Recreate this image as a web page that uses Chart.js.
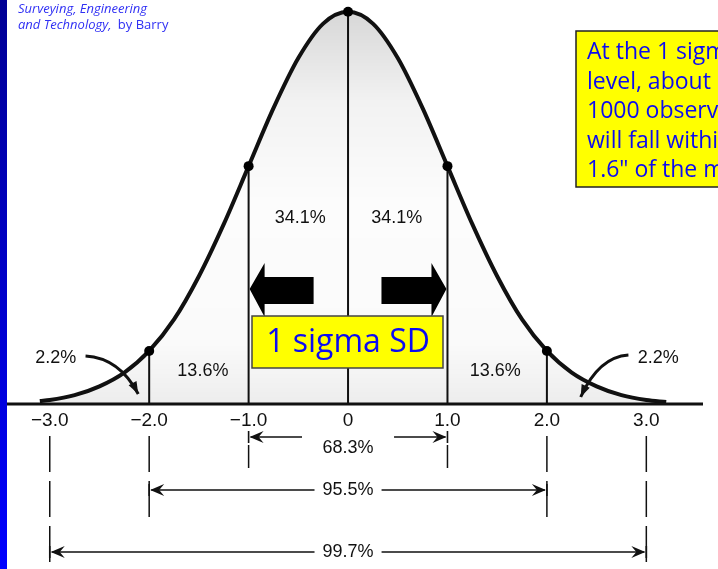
<!DOCTYPE html>
<html>
<head>
<meta charset="utf-8">
<script src="https://cdn.jsdelivr.net/npm/chart.js@4/dist/chart.umd.min.js"></script>
<style>
  html, body { margin: 0; padding: 0; background: #fff; }
  canvas { display: block; }
</style>
</head>
<body>
<canvas id="myChart" width="718" height="569"></canvas>
<script>
'use strict';

// bell curve (x in sigma, y = height of curve)
let curveX = [-3.1, -3.0, -2.75, -2.5, -2.25, -2.0, -1.75, -1.5, -1.25, -1.0, -0.75, -0.5, -0.25, 0,
              0.25, 0.5, 0.75, 1.0, 1.25, 1.5, 1.75, 2.0, 2.25, 2.5, 2.75, 3.0, 3.2];
let curveY = [0.003, 0.004, 0.009, 0.018, 0.032, 0.054, 0.086, 0.130, 0.183, 0.242, 0.301, 0.352, 0.387, 0.399,
              0.387, 0.352, 0.301, 0.242, 0.183, 0.130, 0.086, 0.054, 0.032, 0.018, 0.009, 0.004, 0.002];

let tickValues = [-3, -2, -1, 0, 1, 2, 3];
let tickLabels = ['\u22123.0', '\u22122.0', '\u22121.0', '0', '1.0', '2.0', '3.0'];

let markX = [-2, -1, 0, 1, 2];   // dots + vertical lines

let areaLabels = ['2.2%', '13.6%', '34.1%', '34.1%', '13.6%', '2.2%'];
let spanLabels = ['68.3%', '95.5%', '99.7%'];
let spanSigma = [1, 2, 3];

let boxLines = ['At the 1 sigma', 'level, about 683 of', '1000 observations', 'will fall within \u00b1', '1.6" of the mean'];

let blueText = '#0b0bf2';
let comic = '"Comic Sans MS", "Open Sans", sans-serif';
let plain = '"Liberation Sans", Arial, sans-serif';

function arrowHead(ctx, x, y, dir) {
    // "<" head, dir = -1 points left, 1 points right
    ctx.beginPath();
    ctx.moveTo(x - dir * 14, y - 6);
    ctx.lineTo(x, y);
    ctx.lineTo(x - dir * 14, y + 6);
    ctx.lineTo(x - dir * 9, y);
    ctx.closePath();
    ctx.fill();
}

function curvedArrow(ctx, x0, y0, cx, cy, x1, y1) {
    ctx.beginPath();
    ctx.moveTo(x0, y0);
    ctx.quadraticCurveTo(cx, cy, x1, y1);
    ctx.lineWidth = 3;
    ctx.stroke();
    let a = Math.atan2(y1 - cy, x1 - cx);
    ctx.beginPath();
    ctx.moveTo(x1, y1);
    ctx.lineTo(x1 - 13 * Math.cos(a - 0.35), y1 - 13 * Math.sin(a - 0.35));
    ctx.lineTo(x1 - 13 * Math.cos(a + 0.35), y1 - 13 * Math.sin(a + 0.35));
    ctx.closePath();
    ctx.fill();
}

let bellPlugin = {
    id: 'bell',
    beforeDraw(chart) {
        let ctx = chart.ctx;
        let g = ctx.createLinearGradient(0, 0, 0, chart.height);
        g.addColorStop(0, '#000094');
        g.addColorStop(1, '#0000ff');
        ctx.save();
        ctx.fillStyle = g;
        ctx.fillRect(0, 0, 7, chart.height);

        // source line
        ctx.fillStyle = '#3030f4';
        ctx.textBaseline = 'alphabetic';
        ctx.font = 'italic 13px ' + comic;
        ctx.fillText('Surveying, Engineering', 18, 13);
        ctx.fillText('and Technology,', 18, 29);
        let w = ctx.measureText('and Technology, ').width;
        ctx.font = '13px ' + comic;
        ctx.fillText('by Barry', 18 + w + 3, 29);
        ctx.restore();
    },
    beforeDatasetsDraw(chart) {
        let ctx = chart.ctx;
        let xs = chart.scales.x, ys = chart.scales.y;
        let y0 = ys.getPixelForValue(0);
        ctx.save();
        ctx.strokeStyle = '#111';
        ctx.lineWidth = 2;
        markX.forEach(function (m) {
            let i = curveX.indexOf(m);
            let x = xs.getPixelForValue(m);
            ctx.beginPath();
            ctx.moveTo(x, y0);
            ctx.lineTo(x, ys.getPixelForValue(curveY[i]));
            ctx.stroke();
        });
        ctx.restore();
    },
    afterDatasetsDraw(chart) {
        let ctx = chart.ctx;
        let xs = chart.scales.x, ys = chart.scales.y;
        let y0 = ys.getPixelForValue(0);
        let px = function (v) { return xs.getPixelForValue(v); };
        ctx.save();

        // axis line
        ctx.strokeStyle = '#111';
        ctx.lineWidth = 3;
        ctx.beginPath();
        ctx.moveTo(chart.chartArea.left, y0);
        ctx.lineTo(chart.chartArea.right, y0);
        ctx.stroke();

        // tick labels
        ctx.fillStyle = '#111';
        ctx.font = '19px ' + plain;
        ctx.textAlign = 'center';
        ctx.textBaseline = 'middle';
        tickValues.forEach(function (v, i) {
            ctx.fillText(tickLabels[i], px(v), y0 + 17);
        });

        // area percentages
        ctx.font = '18px ' + plain;
        ctx.fillText(areaLabels[2], px(-0.48), 218);
        ctx.fillText(areaLabels[3], px(0.49), 218);
        ctx.fillText(areaLabels[1], px(-1.46), 371);
        ctx.fillText(areaLabels[4], px(1.48), 371);
        ctx.fillText(areaLabels[0], px(-2.94), 358);
        ctx.fillText(areaLabels[5], px(3.12), 358);

        // curved pointers for the tails
        ctx.strokeStyle = '#111';
        ctx.fillStyle = '#111';
        curvedArrow(ctx, px(-2.64), 356, px(-2.3), 358, px(-2.11), 394);
        curvedArrow(ctx, px(2.82), 355, px(2.52), 357, px(2.34), 397);

        // dashed extension lines below the axis
        ctx.lineWidth = 1.5;
        ctx.setLineDash([36, 9]);
        let dashBottom = [468, 524, chart.height];
        spanSigma.forEach(function (s, k) {
            [-s, s].forEach(function (v) {
                ctx.beginPath();
                ctx.moveTo(px(v), k === 0 ? 445 : 436);
                ctx.lineTo(px(v), dashBottom[k]);
                ctx.stroke();
            });
        });
        ctx.setLineDash([]);

        // span arrows with labels
        let spanY = [437, 490, 552];
        let labelY = [448, 490, 552];
        ctx.font = '18px ' + plain;
        spanSigma.forEach(function (s, k) {
            let xl = px(-s), xr = px(s), xc = px(0);
            let tw = ctx.measureText(spanLabels[k]).width;
            let gap = k === 0 ? 46 : tw / 2 + 8;
            ctx.lineWidth = 1.6;
            ctx.beginPath();
            ctx.moveTo(xl + 2, spanY[k]);
            ctx.lineTo(xc - gap, spanY[k]);
            ctx.moveTo(xc + gap, spanY[k]);
            ctx.lineTo(xr - 2, spanY[k]);
            ctx.stroke();
            arrowHead(ctx, xl + 1, spanY[k], -1);
            arrowHead(ctx, xr - 1, spanY[k], 1);
            ctx.beginPath();
            ctx.moveTo(xl, spanY[k] - 6);
            ctx.lineTo(xl, spanY[k] + 6);
            ctx.moveTo(xr, spanY[k] - 6);
            ctx.lineTo(xr, spanY[k] + 6);
            ctx.stroke();
            ctx.fillText(spanLabels[k], xc, labelY[k]);
        });

        // big black arrows out to +-1 sigma
        ctx.fillStyle = '#000';
        let ay = 289;
        let l1 = px(-1), r1 = px(1);
        ctx.beginPath();
        ctx.moveTo(l1 + 1, ay);
        ctx.lineTo(l1 + 16, ay - 26);
        ctx.lineTo(l1 + 16, ay - 12);
        ctx.lineTo(l1 + 65, ay - 12);
        ctx.lineTo(l1 + 65, ay + 15);
        ctx.lineTo(l1 + 16, ay + 15);
        ctx.lineTo(l1 + 16, ay + 28);
        ctx.closePath();
        ctx.fill();
        ctx.beginPath();
        ctx.moveTo(r1 - 1, ay);
        ctx.lineTo(r1 - 16, ay - 26);
        ctx.lineTo(r1 - 16, ay - 12);
        ctx.lineTo(r1 - 66, ay - 12);
        ctx.lineTo(r1 - 66, ay + 15);
        ctx.lineTo(r1 - 16, ay + 15);
        ctx.lineTo(r1 - 16, ay + 28);
        ctx.closePath();
        ctx.fill();

        // "1 sigma SD" box
        ctx.fillStyle = '#ffff00';
        ctx.strokeStyle = '#444';
        ctx.lineWidth = 1.5;
        ctx.fillRect(252, 316, 191, 52);
        ctx.strokeRect(252, 316, 191, 52);
        ctx.fillStyle = blueText;
        ctx.font = '32px ' + comic;
        ctx.textAlign = 'center';
        ctx.textBaseline = 'middle';
        ctx.fillText('1 sigma SD', px(0), 343);

        // note box at top right (runs off the page)
        ctx.fillStyle = '#ffff00';
        ctx.fillRect(576, 31, 160, 156);
        ctx.strokeStyle = '#222';
        ctx.strokeRect(576, 31, 160, 156);
        ctx.fillStyle = blueText;
        ctx.font = '23px ' + comic;
        ctx.textAlign = 'left';
        ctx.textBaseline = 'alphabetic';
        boxLines.forEach(function (t, i) {
            ctx.fillText(t, 587, 59 + i * 29.5);
        });
        ctx.restore();
    }
};

let ctx = document.getElementById('myChart').getContext('2d');
let myChart = new Chart(ctx, {
    type: 'line',
    data: {
        datasets: [{
            data: curveX.map(function (x, i) { return { x: x, y: curveY[i] }; }),
            borderColor: '#111',
            borderWidth: 4,
            cubicInterpolationMode: 'monotone',
            fill: 'origin',
            backgroundColor: function (c) {
                let area = c.chart.chartArea;
                if (!area) return 'rgba(0,0,0,0)';
                let g = c.chart.ctx.createLinearGradient(0, area.top, 0, area.bottom);
                g.addColorStop(0, 'rgba(0,0,0,0.17)');
                g.addColorStop(0.25, 'rgba(0,0,0,0.05)');
                g.addColorStop(0.5, 'rgba(0,0,0,0.01)');
                g.addColorStop(0.85, 'rgba(0,0,0,0.02)');
                g.addColorStop(1, 'rgba(0,0,0,0.07)');
                return g;
            },
            pointRadius: function (c) {
                return markX.indexOf(curveX[c.dataIndex]) >= 0 ? 5 : 0;
            },
            pointBackgroundColor: '#000',
            pointBorderWidth: 0
        }]
    },
    options: {
        responsive: false,
        animation: false,
        layout: { padding: { left: 7, right: 15, top: 1, bottom: 165 } },
        scales: {
            x: { type: 'linear', min: -3.43, max: 3.57, display: false },
            y: { min: 0, max: 0.41, display: false }
        },
        plugins: {
            legend: { display: false },
            tooltip: { enabled: false }
        }
    },
    plugins: [bellPlugin]
});
</script>
</body>
</html>
